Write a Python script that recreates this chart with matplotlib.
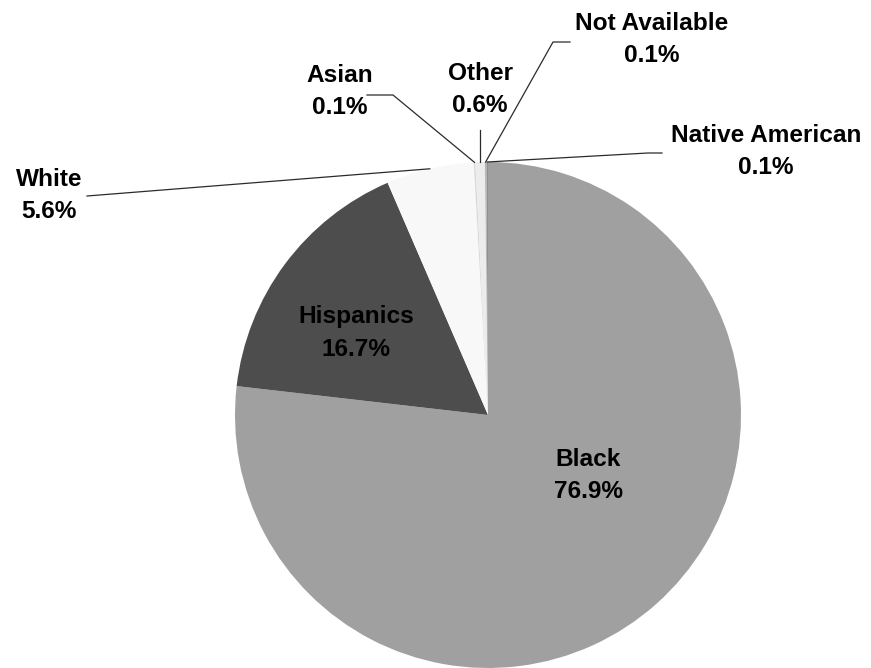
import numpy as np
import matplotlib
matplotlib.use("Agg")
import matplotlib.pyplot as plt

# share of each group, clockwise from 12 o'clock
groups = ["Black", "Hispanics", "White", "Asian", "Other", "Not Available", "Native American"]
shares = [76.9, 16.7, 5.6, 0.1, 0.6, 0.1, 0.1]
colors = ["#a0a0a0", "#4d4d4d", "#f8f8f8", "#d8d8d8", "#ececec", "#b8b8b8", "#909090"]

W, H = 871, 668
cx, cy, r = 488, H - 415, 253

# label block centres (pixels, y down) and elbow points of the leader lines
label_pos = {
    "Black": (588, 475),
    "Hispanics": (356, 333),
    "White": (49, 195),
    "Asian": (340, 92),
    "Other": (480, 90),
    "Not Available": (652, 40),
    "Native American": (766, 151),
}
leaders = {
    "White": [(87, 196)],
    "Asian": [(367, 95), (393, 95)],
    "Other": [None],
    "Not Available": [(570, 42), (553, 42)],
    "Native American": [(662, 153), (648, 153)],
}

plt.rcParams['font.family'] = ['Liberation Sans', 'DejaVu Sans']

fig = plt.figure(figsize=(W / 100, H / 100), dpi=100)
ax = fig.add_axes([0, 0, 1, 1])

wedges, _ = ax.pie(shares, colors=colors, startangle=90, counterclock=False,
                   center=(cx, cy), radius=r, frame=True,
                   wedgeprops=dict(linewidth=0))
ax.set_xlim(0, W)
ax.set_ylim(0, H)
ax.set_aspect('equal')
ax.axis('off')

for name, val, w in zip(groups, shares, wedges):
    lx, ly = label_pos[name]
    ax.text(lx, H - ly, f"{name}\n{val:.1f}%", ha='center', va='center',
            fontsize=17.6, fontweight='bold', linespacing=1.5, color='black')
    if name in leaders:
        mid = np.deg2rad((w.theta1 + w.theta2) / 2)
        ex, ey = cx + r * np.cos(mid), cy + r * np.sin(mid)
        pts = leaders[name]
        if pts[0] is None:
            xs, ys = [ex, ex], [H - 130, ey]
        else:
            xs = [p[0] for p in pts] + [ex]
            ys = [H - p[1] for p in pts] + [ey]
        ax.plot(xs, ys, color='#2b2b2b', linewidth=0.9)

fig.savefig("out.png", dpi=100)
